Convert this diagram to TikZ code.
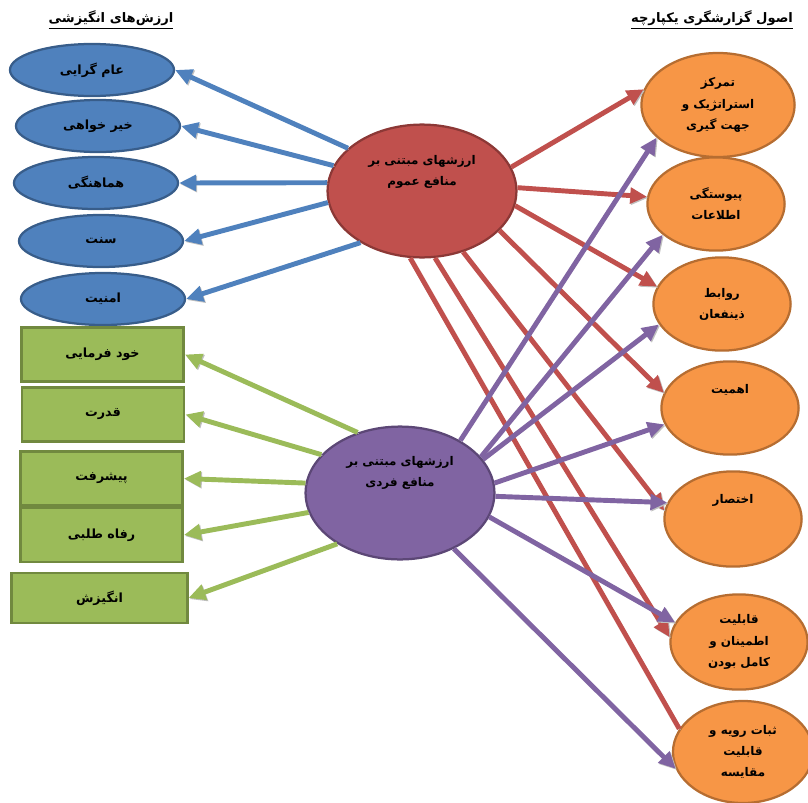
\documentclass[tikz,border=0pt]{standalone}
\usepackage{fontspec}
\newfontfamily\fa[Script=Arabic]{DejaVu Sans}
\TeXXeTstate=1
\usepackage{tikz}
\usetikzlibrary{shapes.geometric, arrows.meta}
\tikzset{>={Triangle[length=12pt,width=11pt]}}
\usepackage{xcolor}
\definecolor{myblue}{HTML}{4F81BD}
\definecolor{mybluedark}{HTML}{385D8A}
\definecolor{myred}{HTML}{C0504D}
\definecolor{myreddark}{HTML}{8C3836}
\definecolor{mypurple}{HTML}{8064A2}
\definecolor{mypurpledark}{HTML}{5C4776}
\definecolor{mygreen}{HTML}{9BBB59}
\definecolor{mygreendark}{HTML}{71893F}
\definecolor{myorange}{HTML}{F79646}
\definecolor{myorangedark}{HTML}{B66D31}

\begin{document}
\begin{tikzpicture}[x=0.025cm, y=-0.025cm,
  every node/.style={font=\fa\bfseries\fontsize{8.5}{15}\selectfont, align=center, inner sep=1pt},
  value/.style={ellipse, draw=mybluedark, fill=myblue, line width=1.6pt, minimum width=4.1cm, minimum height=1.3cm, font=\fa\bfseries\fontsize{9}{15}\selectfont},
  motive/.style={rectangle, draw=mygreendark, fill=mygreen, line width=2pt, minimum width=4.05cm, minimum height=1.35cm, font=\fa\bfseries\fontsize{9}{15}\selectfont},
  base/.style={ellipse, line width=1.6pt, minimum width=4.72cm, minimum height=3.32cm},
  principle/.style={ellipse, draw=myorangedark, fill=myorange, line width=1.6pt, minimum width=3.43cm, minimum height=2.33cm},
  link/.style={->, line width=3.5pt, preaction={draw=black!25, transform canvas={shift={(0.8pt,-0.8pt)}}}},
  heading/.style={font=\fa\bfseries\fontsize{9.3}{12}\selectfont}]
  \useasboundingbox (0,0) rectangle (808,802);

  % headings
  \node[heading] (lefthead) at (111,20) {\underline{\beginR ارزش‌های انگیزشی\endR}};
  \node[heading] (righthead) at (712,20) {\underline{\beginR اصول گزارشگری یکپارچه\endR}};

  % motivational values
  \node[value] (v1) at (92,70) {\beginR عام گرایی\endR};
  \node[value] (v2) at (98,126) {\beginR خیر خواهی\endR};
  \node[value] (v3) at (96,183) {\beginR هماهنگی\endR};
  \node[value] (v4) at (101,241) {\beginR سنت\endR};
  \node[value] (v5) at (103,299) {\beginR امنیت\endR};

  \node[motive] (m1) at (102.5,354.5) {\beginR خود فرمایی\endR};
  \node[motive] (m2) at (103,414.5) {\beginR قدرت\endR};
  \node[motive] (m3) at (101.5,478.5) {\beginR پیشرفت\endR};
  \node[motive] (m4) at (101.5,535) {\beginR رفاه طلبی\endR};
  \node[motive, minimum width=4.38cm, minimum height=1.25cm] (m5) at (99.5,598) {\beginR انگیزش\endR};

  % the two bases
  \node[base, draw=myreddark, fill=myred,
    label={[name=pubtext, yshift=0.475cm]center:{\beginR ارزشهای مبتنی بر\endR\\\beginR منافع عموم\endR}}] (pub) at (422,191) {};
  \node[base, draw=mypurpledark, fill=mypurple,
    label={[name=indtext, yshift=0.5cm]center:{\beginR ارزشهای مبتنی بر\endR\\\beginR منافع فردی\endR}}] (ind) at (400,493) {};

  % integrated reporting principles
  \node[principle, minimum width=3.83cm, minimum height=2.6cm] (p1) at (718,105) {\beginR تمرکز\endR\\\beginR استراتژیک و\endR\\\beginR جهت گیری\endR};
  \node[principle] (p2) at (716,204) {\beginR پیوستگی\endR\\\beginR اطلاعات\endR};
  \node[principle] (p3) at (722,304) {\beginR روابط\endR\\\beginR ذینفعان\endR};
  \node[principle, label={[name=p4text, yshift=0.45cm]center:{\beginR اهمیت\endR}}] (p4) at (730,408) {};
  \node[principle, minimum height=2.38cm, label={[name=p5text, yshift=0.475cm]center:{\beginR اختصار\endR}}] (p5) at (733,519) {};
  \node[principle, minimum height=2.38cm] (p6) at (739,642) {\beginR قابلیت\endR\\\beginR اطمینان و\endR\\\beginR کامل بودن\endR};
  \node[principle, minimum width=3.5cm, minimum height=2.55cm] (p7) at (743,752) {\beginR ثبات رویه و\endR\\\beginR قابلیت\endR\\\beginR مقایسه\endR};

  % public interest -> values
  \draw[link, myblue] (pub.150) -- (v1.east);
  \draw[link, myblue] (pub.164) -- (v2.east);
  \draw[link, myblue] (pub.175) -- (v3.east);
  \draw[link, myblue] (pub.187) -- (v4.east);
  \draw[link, myblue] (pub.220) -- (v5.east);

  % individual interest -> values
  \draw[link, mygreen] (ind.125) -- (m1.east);
  \draw[link, mygreen] (ind.154) -- (m2.east);
  \draw[link, mygreen] (ind.174) -- (m3.east);
  \draw[link, mygreen] (ind.192) -- (m4.east);
  \draw[link, mygreen] (ind.219) -- (m5.east);

  % public interest -> principles
  \draw[link, myred] (pub.15) -- (p1.168);
  \draw[link, myred] (pub.2) -- (p2.174);
  \draw[link, myred] (pub.351) -- (p3.165);
  \draw[link, myred] (pub.333) -- (p4.167);
  \draw[link, myred] (pub.304) -- (p5.173);
  \draw[link, myred] (pub.281) -- (p6.176);
  \draw[link, myred, -] (pub.260) -- (p7.160);

  % individual interest -> principles
  \draw[link, mypurple] (ind.41) -- (p1.208);
  \draw[link, mypurple] (ind.24) -- (p2.210);
  \draw[link, mypurple] (ind.22) -- (p3.198);
  \draw[link, mypurple] (ind.6) -- (p4.194);
  \draw[link, mypurple] (ind.358) -- (p5.166);
  \draw[link, mypurple] (ind.345) -- (p6.163);
  \draw[link, mypurple] (ind.314) -- (p7.194);
\end{tikzpicture}
\end{document}
